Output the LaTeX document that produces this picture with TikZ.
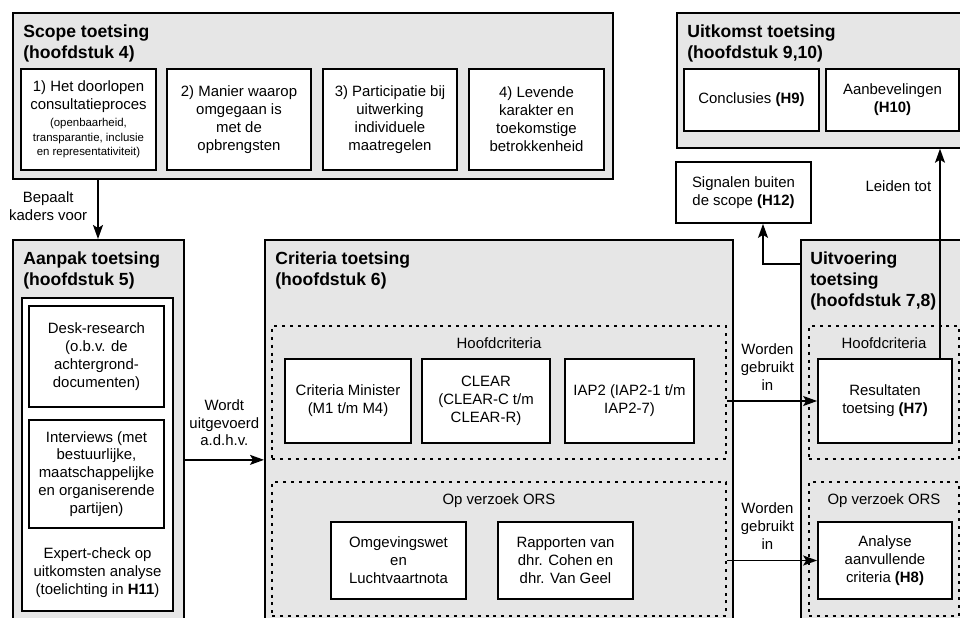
\documentclass[tikz,border=0pt]{standalone}
\usepackage{fontspec}
\setmainfont{Liberation Sans}
\usetikzlibrary{arrows.meta}

\definecolor{grp}{HTML}{E6E6E6}
\newcommand{\smallfnt}{\fontsize{6.5}{8.2}\selectfont}

\tikzstyle{group} = [draw=black, fill=grp, line width=1pt, rectangle, anchor=north west, inner sep=0pt]
\tikzstyle{sub} = [draw=black, line width=1pt, dash pattern=on 1.7pt off 2.8pt, rectangle, inner sep=0pt]
\tikzstyle{box} = [draw=black, fill=white, line width=1pt, rectangle, align=center, inner sep=0pt]
\tikzstyle{ttl} = [font=\bfseries, align=left, anchor=north west, inner sep=0pt]
\tikzstyle{txt} = [align=center, inner sep=0pt]
\tikzstyle{arr} = [->, line width=0.9pt]

\begin{document}
\begin{tikzpicture}[x=0.02cm, y=-0.02cm,
>={Stealth[length=2.8mm,width=2mm,inset=0.6mm]},
font=\fontsize{8.5}{10.2}\selectfont,
]
\useasboundingbox (0,0) rectangle (960,618);
\clip (0,0) rectangle (960,618);

%SCOPE
\node[group, minimum width=12cm, minimum height=3.32cm] (scope) at (12,12) {};
\node[ttl] (scopettl) at ([shift={(11,12.5)}]scope.north west) {Scope toetsing\\(hoofdstuk 4)};
\node[box, minimum width=2.7cm, minimum height=2.02cm] (doorlopen) at (88.5,119.5)
  {1) Het doorlopen\\consultatieproces\\[-0.6pt]\smallfnt (openbaarheid,\\[-2pt]\smallfnt transparantie, inclusie\\[-2pt]\smallfnt en representativiteit)};
\node[box, minimum width=2.88cm, minimum height=2.02cm] (manier) at (239,119.5)
  {2) Manier waarop\\omgegaan is\\met de\\opbrengsten};
\node[box, minimum width=2.68cm, minimum height=2.02cm] (particip) at (390,119.5)
  {3) Participatie bij\\uitwerking\\individuele\\maatregelen};
\node[box, minimum width=2.7cm, minimum height=2.02cm] (levend) at (536.5,119.5)
  {4) Levende\\karakter en\\toekomstige\\betrokkenheid};

%UITKOMST
\node[group, minimum width=6cm, minimum height=2.7cm] (uitkomst) at (676,12) {};
\node[ttl] (uitkomstttl) at ([shift={(11,12.5)}]uitkomst.north west) {Uitkomst toetsing\\(hoofdstuk 9,10)};
\node[box, minimum width=2.7cm, minimum height=1.24cm] (concl) at (751.5,100) {Conclusies \textbf{(H9)}};
\node[box, minimum width=2.66cm, minimum height=1.24cm] (aanbev) at (892.5,100) {Aanbevelingen\\\textbf{(H10)}};

\node[box, minimum width=2.7cm, minimum height=1.22cm] (signalen) at (743.5,192.5) {Signalen buiten\\de scope \textbf{(H12)}};

%AANPAK
\node[group, minimum width=3.42cm, minimum height=8cm] (aanpak) at (12,239) {};
\node[ttl] (aanpakttl) at ([shift={(11,12.5)}]aanpak.north west) {Aanpak toetsing\\(hoofdstuk 5)};
\node[box, minimum width=3.02cm, minimum height=6.26cm] (aanpakin) at (97.5,454.5) {};
\node[box, minimum width=2.7cm, minimum height=2.02cm] (desk) at (96.5,356.5)
  {Desk-research\\(o.b.v. de\\achtergrond-\\documenten)};
\node[box, minimum width=2.7cm, minimum height=2.16cm] (interv) at (96.5,474)
  {Interviews (met\\bestuurlijke,\\maatschappelijke\\en organiserende\\partijen)};
\node[txt] (expert) at (97.5,573) {Expert-check op\\uitkomsten analyse\\(toelichting in \textbf{H11})};

%CRITERIA
\node[group, minimum width=9.36cm, minimum height=8cm] (criteria) at (264,239) {};
\node[ttl] (criteriattl) at ([shift={(11,12.5)}]criteria.north west) {Criteria toetsing\\(hoofdstuk 6)};
\node[sub, minimum width=9.08cm, minimum height=2.66cm] (hoofd) at (499,392.5) {};
\node[txt, anchor=north] (hoofdlbl) at ([shift={(0,12.5)}]hoofd.north) {Hoofdcriteria};
\node[box, minimum width=2.52cm, minimum height=1.68cm] (minister) at (348,401) {Criteria Minister\\(M1 t/m M4)};
\node[box, minimum width=2.56cm, minimum height=1.68cm] (clear) at (486,401) {CLEAR\\(CLEAR-C t/m\\CLEAR-R)};
\node[box, minimum width=2.58cm, minimum height=1.68cm] (iap) at (629.5,401) {IAP2 (IAP2-1 t/m\\IAP2-7)};
\node[sub, minimum width=9.08cm, minimum height=2.68cm] (ors) at (499,549) {};
\node[txt, anchor=north] (orslbl) at ([shift={(0,12.5)}]ors.north) {Op verzoek ORS};
\node[box, minimum width=2.7cm, minimum height=1.54cm] (omgev) at (398.5,560.5) {Omgevingswet\\en\\Luchtvaartnota};
\node[box, minimum width=2.7cm, minimum height=1.54cm] (rapport) at (565.5,560.5) {Rapporten van\\dhr. Cohen en\\dhr. Van Geel};

%UITVOERING
\node[group, minimum width=4cm, minimum height=8cm] (uitv) at (800,239) {};
\node[ttl] (uitvttl) at ([shift={(10,12.5)}]uitv.north west) {Uitvoering\\toetsing\\(hoofdstuk 7,8)};
\node[sub, minimum width=3cm, minimum height=2.66cm] (hoofdb) at (884,392.5) {};
\node[txt, anchor=north] (hoofdblbl) at ([shift={(0,12.5)}]hoofdb.north) {Hoofdcriteria};
\node[box, minimum width=2.68cm, minimum height=1.68cm] (result) at (885,401) {Resultaten\\toetsing \textbf{(H7)}};
\node[sub, minimum width=3cm, minimum height=2.68cm] (orsb) at (884,549) {};
\node[txt, anchor=north] (orsblbl) at ([shift={(0,12.5)}]orsb.north) {Op verzoek ORS};
\node[box, minimum width=2.68cm, minimum height=1.54cm] (analyse) at (885,560.5) {Analyse\\aanvullende\\criteria \textbf{(H8)}};

%ARROWS
\draw[arr] ([shift={(86,0)}]scope.south west) -- ([shift={(86,0)}]scope.south west |- aanpak.north)
  node[txt, pos=0.45, left=0.2cm] {Bepaalt\\kaders voor};
\draw[arr] (aanpak.east |- hoofd.south) -- (criteria.west |- hoofd.south)
  node[txt, midway, above=0.26cm] {Wordt\\uitgevoerd\\a.d.h.v.};
\draw[arr] (hoofd.east |- result.west) -- (result.west)
  node[txt, pos=0.45, above=0.2cm] {Worden\\gebruikt\\in};
\draw[arr] (ors.east |- analyse.west) -- (analyse.west)
  node[txt, pos=0.45, above=0.2cm] {Worden\\gebruikt\\in};
\draw[arr] ([shift={(0,25)}]uitv.north west) -| ([shift={(19.5,0)}]signalen.south);
\draw[arr] ([shift={(55,0)}]result.north) -- ([shift={(55,0)}]result.north |- uitkomst.south)
  node[txt, pos=0.82, left=0.16cm] {Leiden tot};

\end{tikzpicture}
\end{document}
